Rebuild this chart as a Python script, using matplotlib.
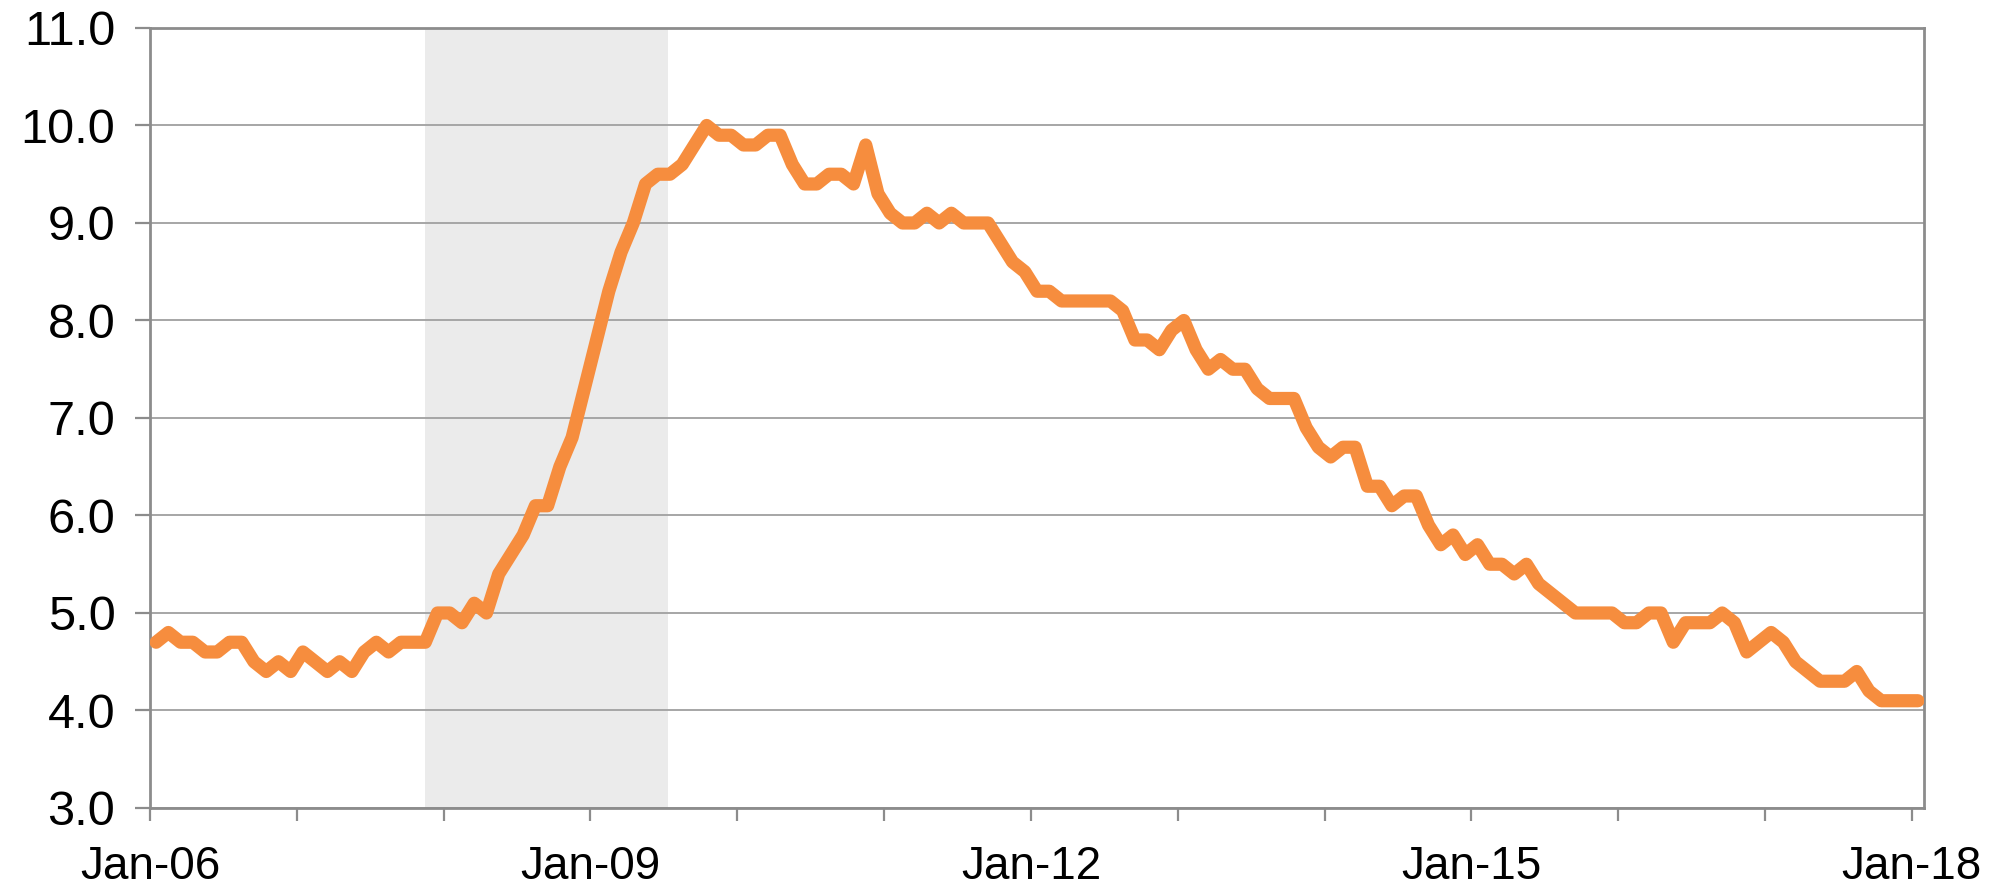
import numpy as np
import matplotlib
matplotlib.use("Agg")
import matplotlib.pyplot as plt

plt.rcParams['font.family'] = ['Liberation Sans', 'DejaVu Sans']

# monthly unemployment rate, Jan-06 .. Jan-18
rate = [
	4.7, 4.8, 4.7, 4.7, 4.6, 4.6, 4.7, 4.7, 4.5, 4.4, 4.5, 4.4,		# 2006
	4.6, 4.5, 4.4, 4.5, 4.4, 4.6, 4.7, 4.6, 4.7, 4.7, 4.7, 5.0,		# 2007
	5.0, 4.9, 5.1, 5.0, 5.4, 5.6, 5.8, 6.1, 6.1, 6.5, 6.8, 7.3,		# 2008
	7.8, 8.3, 8.7, 9.0, 9.4, 9.5, 9.5, 9.6, 9.8, 10.0, 9.9, 9.9,	# 2009
	9.8, 9.8, 9.9, 9.9, 9.6, 9.4, 9.4, 9.5, 9.5, 9.4, 9.8, 9.3,		# 2010
	9.1, 9.0, 9.0, 9.1, 9.0, 9.1, 9.0, 9.0, 9.0, 8.8, 8.6, 8.5,		# 2011
	8.3, 8.3, 8.2, 8.2, 8.2, 8.2, 8.2, 8.1, 7.8, 7.8, 7.7, 7.9,		# 2012
	8.0, 7.7, 7.5, 7.6, 7.5, 7.5, 7.3, 7.2, 7.2, 7.2, 6.9, 6.7,		# 2013
	6.6, 6.7, 6.7, 6.3, 6.3, 6.1, 6.2, 6.2, 5.9, 5.7, 5.8, 5.6,		# 2014
	5.7, 5.5, 5.5, 5.4, 5.5, 5.3, 5.2, 5.1, 5.0, 5.0, 5.0, 5.0,		# 2015
	4.9, 4.9, 5.0, 5.0, 4.7, 4.9, 4.9, 4.9, 5.0, 4.9, 4.6, 4.7,		# 2016
	4.8, 4.7, 4.5, 4.4, 4.3, 4.3, 4.3, 4.4, 4.2, 4.1, 4.1, 4.1,		# 2017
	4.1,															# 2018
]

tick_labels = ["Jan-06", "Jan-09", "Jan-12", "Jan-15", "Jan-18"]

# recession (months since Jan-06, bar edges)
rec_start = 22.5
rec_end = 42.3

fig = plt.figure(figsize=(20.16, 8.88), dpi=100)
ax = fig.add_axes([0.0744, 0.0901, 0.88, 0.8784])

x = np.arange(len(rate)) + 0.5
ax.axvspan(rec_start, rec_end, color="#EBEBEB", zorder=0, lw=0)
ax.plot(x, rate, color="#F68D3E", lw=9.5, solid_joinstyle="round", solid_capstyle="round", zorder=3)

ax.set_xlim(0, 145)
ax.set_ylim(3, 11)
ax.set_yticks(np.arange(3, 12, 1))
ax.set_yticklabels(["%.1f" % v for v in np.arange(3, 12, 1)])
ax.set_xticks(np.arange(0, 145, 12))
ax.set_xticklabels([tick_labels[i // 3] if i % 3 == 0 else "" for i in range(13)])

ax.grid(axis="y", color="#A6A6A6", lw=1.4, zorder=1)
ax.set_axisbelow(True)
for s in ax.spines.values():
	s.set_color("#8C8C8C")
	s.set_linewidth(2)

ax.tick_params(axis="both", colors="#8C8C8C", width=1.6, labelcolor="black")
ax.tick_params(axis="y", length=11, pad=14, labelsize=35)
ax.tick_params(axis="x", length=9, pad=18, labelsize=33)

plt.savefig("out.png", dpi=100)
